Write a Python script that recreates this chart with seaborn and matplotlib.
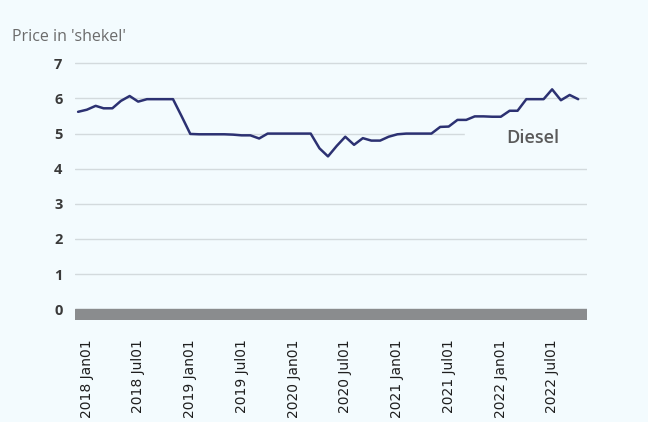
import pandas as pd
import numpy as np
import matplotlib.pyplot as plt
import matplotlib.dates as mdates
import seaborn as sns

# monthly diesel price, Dec 2017 .. Oct 2022
months = pd.date_range('2017-12-01', '2022-10-01', freq='MS')
diesel = [5.62, 5.68, 5.79, 5.72, 5.72, 5.93, 6.07, 5.91, 5.98, 5.98,
          5.98, 5.98, 5.50, 4.99, 4.98, 4.98, 4.98, 4.98, 4.97, 4.95,
          4.95, 4.86, 5.00, 5.00, 5.00, 5.00, 5.00, 5.00, 4.58, 4.35,
          4.65, 4.91, 4.68, 4.87, 4.80, 4.80, 4.91, 4.98, 5.00, 5.00,
          5.00, 5.00, 5.19, 5.20, 5.39, 5.39, 5.49, 5.49, 5.48, 5.48,
          5.65, 5.65, 5.98, 5.98, 5.98, 6.26, 5.95, 6.10, 5.98]
yticks = [0, 1, 2, 3, 4, 5, 6, 7]
tick_dates = pd.date_range('2018-01-01', '2022-07-01', freq='6MS')

df = pd.DataFrame({'month': months, 'price': diesel})

bg = '#f3fbfe'
sns.set_theme(style='white')
plt.rcParams['font.family'] = ['Open Sans', 'DejaVu Sans']

fig = plt.figure(figsize=(6.48, 4.22), dpi=100, facecolor=bg)
ax = fig.add_axes([0.1157, 0.2417, 0.7901, 0.6123])
ax.set_facecolor(bg)

sns.lineplot(data=df, x='month', y='price', color='#2c3172', linewidth=1.8, ax=ax, zorder=3)

ax.set_ylim(-0.31, 7.05)
ax.set_xlim(pd.Timestamp('2017-11-20'), pd.Timestamp('2022-11-01'))
ax.set_yticks(yticks)
ax.set_yticklabels([str(v) for v in yticks], fontsize=10.5, fontweight='bold', color='#3a3a3a')
for v in yticks[1:]:
    ax.axhline(v, color='#d3dadd', linewidth=1.0, zorder=0.5)
# gray base band under zero
ax.axhspan(-0.31, 0, color='#8a8c8e', zorder=1)
# label background hides part of the 5 gridline
ax.axhspan(4.75, 5.25, xmin=(465 - 75) / 512, xmax=1, color=bg, zorder=1.5)

ax.set_xticks(tick_dates)
ax.xaxis.set_major_formatter(mdates.DateFormatter('%Y %b%d'))
for lbl in ax.get_xticklabels():
    lbl.set_rotation(90)
    lbl.set_family('DejaVu Sans')
    lbl.set_fontsize(10)
    lbl.set_color('#1e1e1e')
ax.tick_params(axis='x', length=0, pad=14)
ax.tick_params(axis='y', length=0, pad=9)
ax.set_xlabel('')
ax.set_ylabel('')
for s in ax.spines.values():
    s.set_visible(False)

ax.text(pd.Timestamp('2022-04-25'), 4.86, 'Diesel', fontsize=13, fontweight='semibold',
        color='#5a5a5a', ha='center', va='center', zorder=4)
fig.text(12 / 648, 1 - 37 / 422, "Price in 'shekel'", fontsize=11.5, color='#6b6b6b',
         ha='left', va='center')

fig.savefig('out.png', dpi=100, facecolor=bg)
